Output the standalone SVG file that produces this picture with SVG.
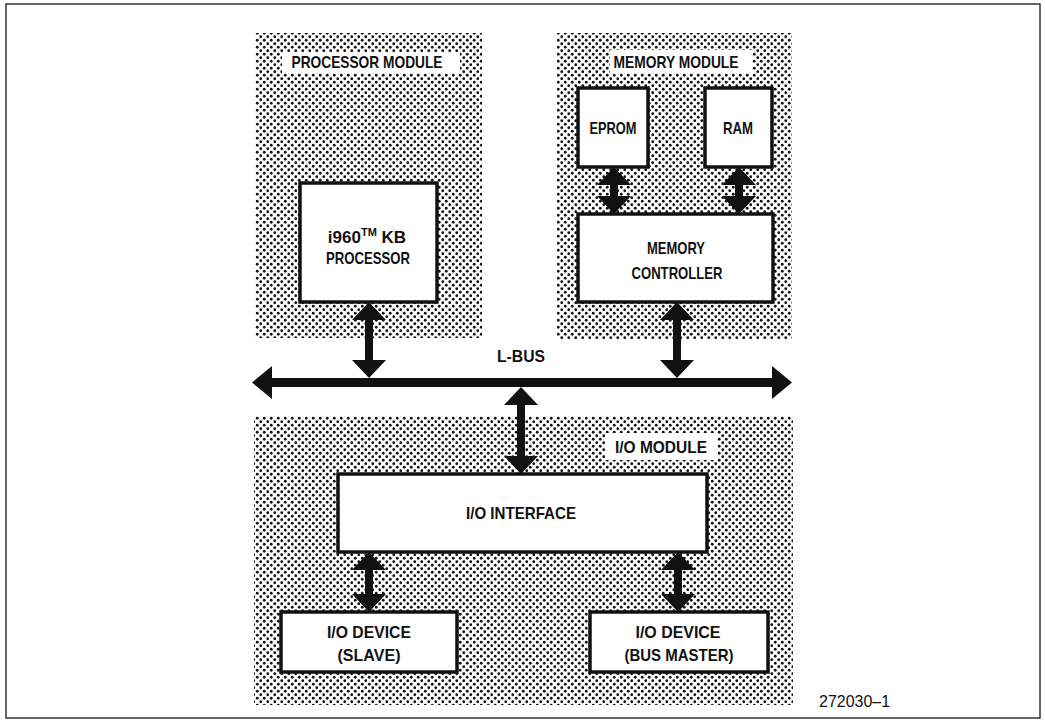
<svg xmlns="http://www.w3.org/2000/svg" width="1045" height="721" viewBox="0 0 1045 721">
<defs>
<pattern id="dots" width="7" height="7" patternUnits="userSpaceOnUse">
<circle cx="1.75" cy="1.75" r="1.4" fill="#111"/>
<circle cx="5.25" cy="5.25" r="1.4" fill="#111"/>
</pattern>
</defs>
<style>
.mod{fill:url(#dots);stroke:none}
.lbl{fill:#fff;stroke:none}
.box{fill:#fff;stroke:#111;stroke-width:3.5}
.t{font-family:"Liberation Sans",Arial,sans-serif;font-weight:bold;font-size:17px;fill:#111;text-anchor:middle}
.arr{fill:#111;stroke:none}
.num{font-family:"Liberation Sans",Arial,sans-serif;font-size:16px;fill:#111}
</style>
<rect x="0" y="0" width="1045" height="721" fill="#fff"/>
<rect x="6" y="4" width="1034" height="714" fill="none" stroke="#333" stroke-width="1.5"/>

<g id="processor-module">
<rect class="mod" x="255" y="33" width="227" height="305"/>
<rect class="lbl" x="282" y="52" width="178" height="21"/>
<text class="t" x="367" y="68" textLength="151" lengthAdjust="spacingAndGlyphs">PROCESSOR MODULE</text>
</g>
<g id="memory-module">
<rect class="mod" x="557" y="33" width="235" height="306"/>
<rect class="lbl" x="610" y="50" width="142" height="23"/>
<text class="t" x="676" y="68" textLength="125" lengthAdjust="spacingAndGlyphs">MEMORY MODULE</text>
</g>
<g id="io-module">
<rect class="mod" x="254" y="416" width="539" height="289"/>
<rect class="lbl" x="605" y="433" width="112" height="27"/>
<text class="t" x="661" y="453" textLength="92" lengthAdjust="spacingAndGlyphs">I/O MODULE</text>
</g>

<g id="processor">
<rect class="box" x="300" y="183" width="137" height="119"/>
<text class="t" x="367" y="243">i960<tspan font-size="11" dy="-7">TM</tspan><tspan dy="7"> KB</tspan></text>
<text class="t" x="368" y="264" textLength="84" lengthAdjust="spacingAndGlyphs">PROCESSOR</text>
</g>
<g id="eprom">
<rect class="box" x="578" y="88" width="70" height="79"/>
<text class="t" x="613" y="134" textLength="47" lengthAdjust="spacingAndGlyphs">EPROM</text>
</g>
<g id="ram">
<rect class="box" x="705" y="88" width="67" height="79"/>
<text class="t" x="738" y="134" textLength="30" lengthAdjust="spacingAndGlyphs">RAM</text>
</g>
<g id="memory-controller">
<rect class="box" x="578" y="214" width="195" height="88"/>
<text class="t" x="676" y="254" textLength="58" lengthAdjust="spacingAndGlyphs">MEMORY</text>
<text class="t" x="677" y="279" textLength="91" lengthAdjust="spacingAndGlyphs">CONTROLLER</text>
</g>
<g id="io-interface">
<rect class="box" x="338" y="474" width="369" height="78"/>
<text class="t" x="521" y="519" textLength="110" lengthAdjust="spacingAndGlyphs">I/O INTERFACE</text>
</g>
<g id="io-slave">
<rect class="box" x="281" y="612" width="176" height="60"/>
<text class="t" x="369" y="638" textLength="84" lengthAdjust="spacingAndGlyphs">I/O DEVICE</text>
<text class="t" x="369" y="661" textLength="63" lengthAdjust="spacingAndGlyphs">(SLAVE)</text>
</g>
<g id="io-master">
<rect class="box" x="590" y="612" width="178" height="60"/>
<text class="t" x="678" y="638" textLength="85" lengthAdjust="spacingAndGlyphs">I/O DEVICE</text>
<text class="t" x="679" y="661" textLength="109" lengthAdjust="spacingAndGlyphs">(BUS MASTER)</text>
</g>

<g id="connectors">
<g id="l-bus">
<polygon class="arr" points="252,382.5 272,366 272,378 772,378 772,366 792,382.5 772,399 772,387 272,387 272,399"/>
<text class="t" x="521" y="362" textLength="48" lengthAdjust="spacingAndGlyphs">L-BUS</text>
</g>
<polygon class="arr" points="369,302 386,320 373,320 373,360 386,360 369,378 352,360 365,360 365,320 352,320"/>
<polygon class="arr" points="677,302 694,320 681,320 681,360 694,360 677,378 660,360 673,360 673,320 660,320"/>
<polygon class="arr" points="521,387 538,405 525,405 525,456 538,456 521,474 504,456 517,456 517,405 504,405"/>
<polygon class="arr" points="614,167 631,185 618,185 618,196 631,196 614,214 597,196 610,196 610,185 597,185"/>
<polygon class="arr" points="739,167 756,185 743,185 743,196 756,196 739,214 722,196 735,196 735,185 722,185"/>
<polygon class="arr" points="369,552 386,570 373,570 373,594 386,594 369,612 352,594 365,594 365,570 352,570"/>
<polygon class="arr" points="678,552 695,570 682,570 682,594 695,594 678,612 661,594 674,594 674,570 661,570"/>
</g>

<text class="num" x="819" y="707" textLength="71" lengthAdjust="spacingAndGlyphs">272030–1</text>
</svg>
